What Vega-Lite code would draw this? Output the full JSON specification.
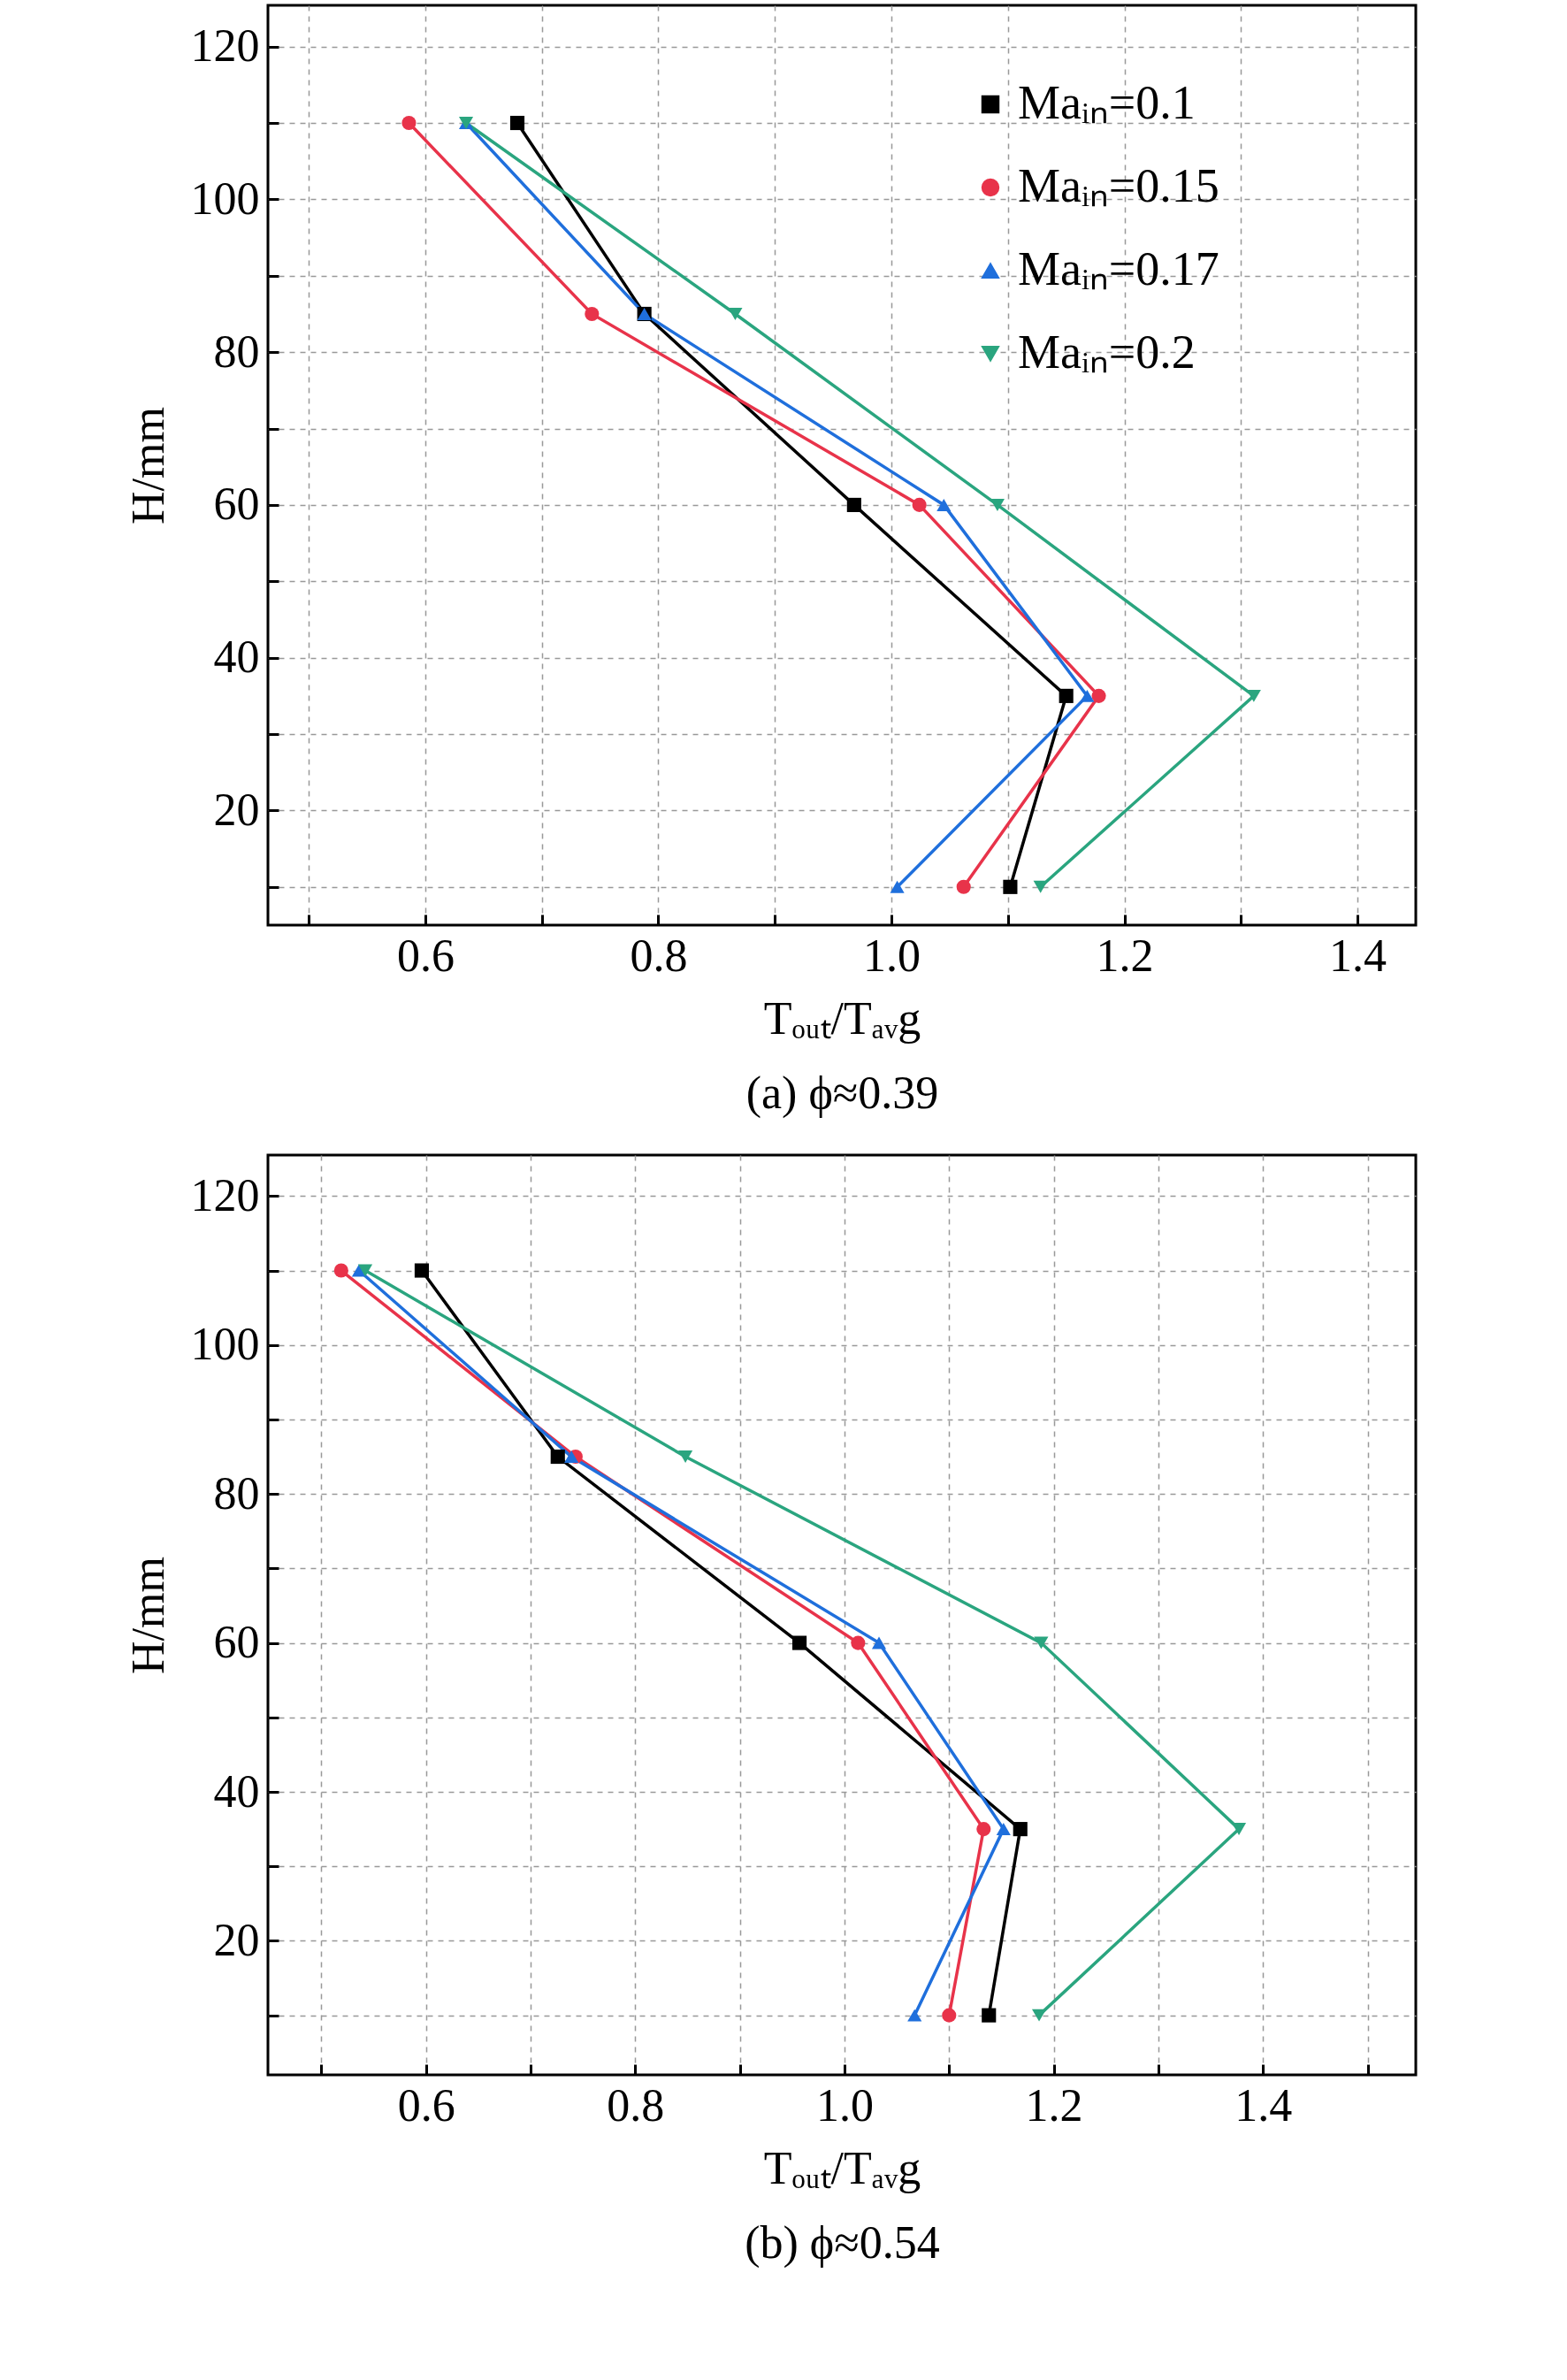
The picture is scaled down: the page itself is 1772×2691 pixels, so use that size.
{
"$schema":"https://vega.github.io/schema/vega-lite/v6.json",
"background":"white",
"padding":{"left":140,"top":4,"right":10,"bottom":10},
"config":{"font":"Liberation Serif","view":{"stroke":"black","strokeWidth":3},
"axis":{"labelFont":"Liberation Serif","titleFont":"Liberation Serif","labelFontSize":52,"titleFontSize":52,"titleFontWeight":"normal","labelColor":"black","titleColor":"black","grid":true,"gridDash":[6,6],"gridColor":"#999","gridWidth":1.5,"tickColor":"black","tickWidth":3,"tickSize":-12,"domain":false,"labelPadding":22,"labelOverlap":false,"labelBound":false,"labelFlush":false},
"legend":{"labelFont":"Liberation Serif","labelFontSize":54,"symbolSize":360,"rowPadding":40,"labelLimit":500}},
"datasets":{"d":[
{"p":"a","s":"Maᵢₙ=0.1","H":110,"T":0.679},{"p":"a","s":"Maᵢₙ=0.1","H":85,"T":0.788},{"p":"a","s":"Maᵢₙ=0.1","H":60,"T":0.968},{"p":"a","s":"Maᵢₙ=0.1","H":35,"T":1.150},{"p":"a","s":"Maᵢₙ=0.1","H":10,"T":1.102},
{"p":"a","s":"Maᵢₙ=0.15","H":110,"T":0.586},{"p":"a","s":"Maᵢₙ=0.15","H":85,"T":0.743},{"p":"a","s":"Maᵢₙ=0.15","H":60,"T":1.024},{"p":"a","s":"Maᵢₙ=0.15","H":35,"T":1.178},{"p":"a","s":"Maᵢₙ=0.15","H":10,"T":1.062},
{"p":"a","s":"Maᵢₙ=0.17","H":110,"T":0.635},{"p":"a","s":"Maᵢₙ=0.17","H":85,"T":0.788},{"p":"a","s":"Maᵢₙ=0.17","H":60,"T":1.045},{"p":"a","s":"Maᵢₙ=0.17","H":35,"T":1.168},{"p":"a","s":"Maᵢₙ=0.17","H":10,"T":1.005},
{"p":"a","s":"Maᵢₙ=0.2","H":110,"T":0.635},{"p":"a","s":"Maᵢₙ=0.2","H":85,"T":0.866},{"p":"a","s":"Maᵢₙ=0.2","H":60,"T":1.091},{"p":"a","s":"Maᵢₙ=0.2","H":35,"T":1.311},{"p":"a","s":"Maᵢₙ=0.2","H":10,"T":1.128},
{"p":"b","s":"Maᵢₙ=0.1","H":110,"T":0.596},{"p":"b","s":"Maᵢₙ=0.1","H":85,"T":0.726},{"p":"b","s":"Maᵢₙ=0.1","H":60,"T":0.957},{"p":"b","s":"Maᵢₙ=0.1","H":35,"T":1.168},{"p":"b","s":"Maᵢₙ=0.1","H":10,"T":1.138},
{"p":"b","s":"Maᵢₙ=0.15","H":110,"T":0.519},{"p":"b","s":"Maᵢₙ=0.15","H":85,"T":0.743},{"p":"b","s":"Maᵢₙ=0.15","H":60,"T":1.013},{"p":"b","s":"Maᵢₙ=0.15","H":35,"T":1.133},{"p":"b","s":"Maᵢₙ=0.15","H":10,"T":1.100},
{"p":"b","s":"Maᵢₙ=0.17","H":110,"T":0.536},{"p":"b","s":"Maᵢₙ=0.17","H":85,"T":0.739},{"p":"b","s":"Maᵢₙ=0.17","H":60,"T":1.033},{"p":"b","s":"Maᵢₙ=0.17","H":35,"T":1.152},{"p":"b","s":"Maᵢₙ=0.17","H":10,"T":1.067},
{"p":"b","s":"Maᵢₙ=0.2","H":110,"T":0.542},{"p":"b","s":"Maᵢₙ=0.2","H":85,"T":0.848},{"p":"b","s":"Maᵢₙ=0.2","H":60,"T":1.188},{"p":"b","s":"Maᵢₙ=0.2","H":35,"T":1.377},{"p":"b","s":"Maᵢₙ=0.2","H":10,"T":1.186}
]},
"resolve":{"scale":{"x":"independent"}},
"spacing":40,
"vconcat":[
{"width":1298,"height":1040,"data":{"name":"d"},"transform":[{"filter":"datum.p==='a'"}],
"encoding":{"x":{"field":"T","type":"quantitative","scale":{"domain":[0.465,1.45],"nice":false,"zero":false},"axis":{"values":[0.5,0.6,0.7,0.8,0.9,1.0,1.1,1.2,1.3,1.4],"labelExpr":"indexof(['0.6','0.8','1.0','1.2','1.4'], format(datum.value,'.1f'))>=0 ? format(datum.value,'.1f') : ''","title":["Tₒᵤₜ/Tₐᵥg","(a) ϕ≈0.39"],"titlePadding":20,"titleLineHeight":84}},
"y":{"field":"H","type":"quantitative","scale":{"domain":[5,125.4],"nice":false},"axis":{"values":[10,20,30,40,50,60,70,80,90,100,110,120],"labelExpr":"datum.value%20==0 ? format(datum.value,'d') : ''","title":"H/mm","titlePadding":20}},
"color":{"field":"s","type":"nominal","scale":{"domain":["Maᵢₙ=0.1","Maᵢₙ=0.15","Maᵢₙ=0.17","Maᵢₙ=0.2"],"range":["#000000","#e8334a","#1f6fdc","#2aa57f"]},"legend":{"title":null,"orient":"none","legendX":790,"legendY":85}},
"shape":{"field":"s","type":"nominal","scale":{"domain":["Maᵢₙ=0.1","Maᵢₙ=0.15","Maᵢₙ=0.17","Maᵢₙ=0.2"],"range":["square","circle","triangle-up","triangle-down"]},"legend":{"title":null,"orient":"none","legendX":790,"legendY":85}},
"order":{"field":"H"}},
"layer":[{"mark":{"type":"line","strokeWidth":3.5}},{"mark":{"type":"point","filled":true,"size":260,"opacity":1}}]},
{"width":1298,"height":1040,"data":{"name":"d"},"transform":[{"filter":"datum.p==='b'"}],
"encoding":{"x":{"field":"T","type":"quantitative","scale":{"domain":[0.449,1.546],"nice":false,"zero":false},"axis":{"values":[0.5,0.6,0.7,0.8,0.9,1.0,1.1,1.2,1.3,1.4,1.5],"labelExpr":"indexof(['0.6','0.8','1.0','1.2','1.4'], format(datum.value,'.1f'))>=0 ? format(datum.value,'.1f') : ''","title":["Tₒᵤₜ/Tₐᵥg","(b) ϕ≈0.54"],"titlePadding":20,"titleLineHeight":84}},
"y":{"field":"H","type":"quantitative","scale":{"domain":[2,125.5],"nice":false},"axis":{"values":[10,20,30,40,50,60,70,80,90,100,110,120],"labelExpr":"datum.value%20==0 ? format(datum.value,'d') : ''","title":"H/mm","titlePadding":20}},
"color":{"field":"s","type":"nominal","scale":{"domain":["Maᵢₙ=0.1","Maᵢₙ=0.15","Maᵢₙ=0.17","Maᵢₙ=0.2"],"range":["#000000","#e8334a","#1f6fdc","#2aa57f"]},"legend":{"title":null,"orient":"none","legendX":790,"legendY":85}},
"shape":{"field":"s","type":"nominal","scale":{"domain":["Maᵢₙ=0.1","Maᵢₙ=0.15","Maᵢₙ=0.17","Maᵢₙ=0.2"],"range":["square","circle","triangle-up","triangle-down"]},"legend":{"title":null,"orient":"none","legendX":790,"legendY":85}},
"order":{"field":"H"}},
"layer":[{"mark":{"type":"line","strokeWidth":3.5}},{"mark":{"type":"point","filled":true,"size":260,"opacity":1}}]}
]}
